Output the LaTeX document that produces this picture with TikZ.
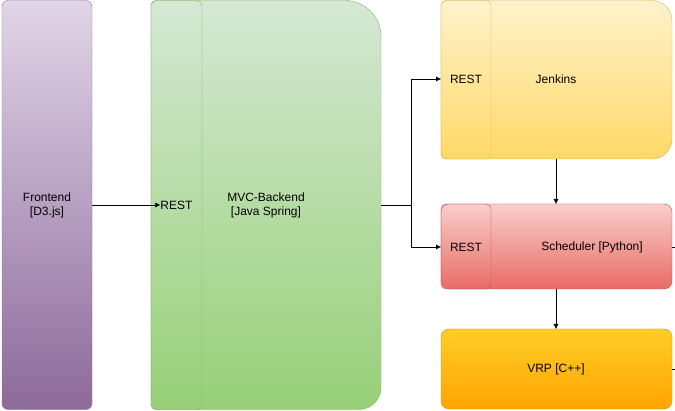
\documentclass[tikz,border=0pt]{standalone}
\usepackage{fontspec}
\setmainfont{Liberation Sans}
\begin{document}
\begin{tikzpicture}[x=1pt,y=1pt,font=\fontsize{12}{14}\selectfont,
  lbl/.style={align=center,inner sep=0},
  arr/.style={-{Latex[length=5pt,width=5pt]},thin},
  ln/.style={thin}]
\usetikzlibrary{arrows.meta}
\definecolor{pS}{HTML}{9673A6}\definecolor{gS}{HTML}{82B366}
\definecolor{yS}{HTML}{D6B656}\definecolor{rS}{HTML}{B85450}\definecolor{oS}{HTML}{D79B00}
\useasboundingbox (0,0) rectangle (675,410);
% Frontend
\shade[top color={rgb,255:red,225;green,213;blue,231},bottom color={rgb,255:red,140;green,106;blue,154},draw=pS,rounded corners=6] (2,0.5) rectangle (92,409.5);
\node[lbl] (fe) at (47,205) {Frontend\\{}[D3.js]};
\coordinate (feR) at (92,205);
% Backend
\shade[top color={rgb,255:red,213;green,232;blue,212},bottom color={rgb,255:red,151;green,208;blue,119},draw=gS]
  [rounded corners=5] (151,0.5) -- (151,409.5) [rounded corners=36] -- (381,409.5) [rounded corners=22] -- (381,0.5) [rounded corners=5] -- cycle;
\draw[gS,rounded corners=5] (202,0.5) -- (151,0.5) -- (151,409.5) -- (202,409.5) -- cycle;
\node[lbl] (brest) at (176.5,205) {REST};
\node[lbl] (be) at (266,205) {MVC-Backend\\{}[Java Spring]};
\coordinate (beR) at (381,205);
% Jenkins
\shade[top color={rgb,255:red,255;green,242;blue,204},bottom color={rgb,255:red,255;green,217;blue,102},draw=yS]
  [rounded corners=5] (441,251) -- (441,409.5) [rounded corners=20] -- (672,409.5) -- (672,251) [rounded corners=5] -- cycle;
\draw[yS,rounded corners=5] (491,251) -- (441,251) -- (441,409.5) -- (491,409.5) -- cycle;
\node[lbl] (jrest) at (466,331) {REST};
\node[lbl] (jen) at (556,331) {Jenkins};
% Scheduler
\shade[top color={rgb,255:red,248;green,206;blue,204},bottom color={rgb,255:red,234;green,107;blue,102},draw=rS,rounded corners=8] (441,121) rectangle (672,206);
\draw[rS,rounded corners=5] (491,121) -- (441,121) -- (441,206) -- (491,206) -- cycle;
\node[lbl] (srest) at (466,163) {REST};
\node[lbl] (sch) at (592,163) {Scheduler [Python]};
% VRP
\shade[top color={rgb,255:red,255;green,205;blue,40},bottom color={rgb,255:red,255;green,165;blue,0},draw=oS,rounded corners=8] (441,1) rectangle (672,81);
\node[lbl] (vrp) at (556,41) {VRP [C++]};
% connectors
\coordinate (jT) at (441,331);\coordinate (sT) at (441,163);
\draw[arr] (feR) -- (brest.west);
\draw[arr] (beR) -- (411,205) |- (jT);
\draw[arr] (beR) -- (411,205) |- (sT);
\draw[arr] (556,251) -- (556,206);
\draw[arr] (556,121) -- (556,81);
\coordinate (o1) at (675,163);\coordinate (o2) at (675,41);
\draw[ln] (672,163) -- (o1);
\draw[ln] (672,41) -- (o2);
\end{tikzpicture}
\end{document}
